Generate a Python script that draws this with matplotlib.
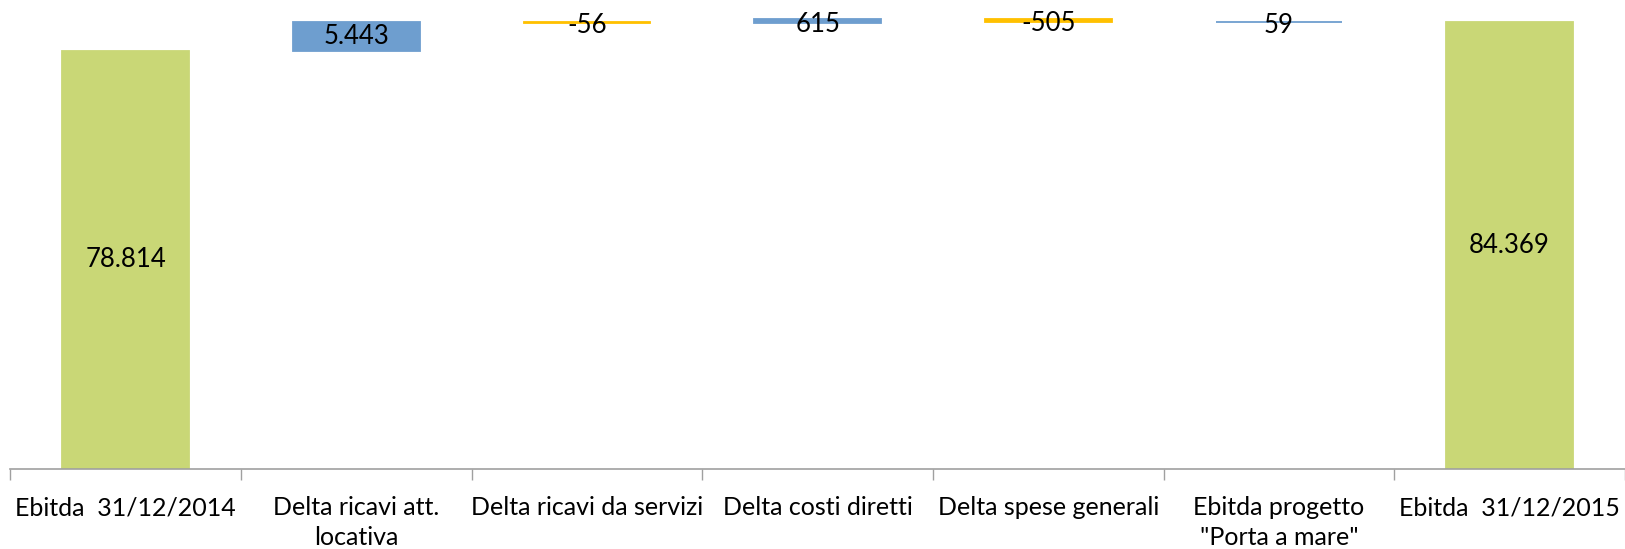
import numpy as np
import matplotlib.pyplot as plt

plt.rcParams['font.family'] = ['Lato', 'DejaVu Sans']

categories = ['Ebitda  31/12/2014', 'Delta ricavi att.\nlocativa', 'Delta ricavi da servizi',
              'Delta costi diretti', 'Delta spese generali', 'Ebitda progetto\n"Porta a mare"',
              'Ebitda  31/12/2015']
values = [78814, 5443, -56, 615, -505, 59, 84369]
labels = ['78.814', '5.443', '-56', '615', '-505', '59', '84.369']
is_total = [True, False, False, False, False, False, True]

green = '#C9D776'
blue = '#6E9ECF'
gold = '#FFC000'

fig = plt.figure(figsize=(16.25, 5.49), dpi=100)
ax = fig.add_axes([0.0064, 0.1466, 0.9936, 0.8534])

x = np.arange(len(values))
running = 0
for i, v in enumerate(values):
    if is_total[i]:
        bottom, height, color = 0, v, green
        running = v
    else:
        bottom = running if v >= 0 else running + v
        height = abs(v)
        color = blue if v >= 0 else gold
        running += v
    ax.bar(x[i], height, bottom=bottom, width=0.55, color=color,
           edgecolor=color, linewidth=1.3)
    # small deltas: label sits just under the line, like in excel
    ax.text(x[i], bottom + height / 2 - (600 if not is_total[i] and height < 1000 else 0),
            labels[i], ha='center', va='center', fontsize=18.5, color='black')

ax.set_xlim(-0.5, 6.5)
ax.set_ylim(0, 88480)
ax.set_yticks([])
for s in ['top', 'right', 'left']:
    ax.spines[s].set_visible(False)
ax.spines['bottom'].set_color('#A0A0A0')
ax.spines['bottom'].set_linewidth(1.2)

ax.set_xticks(x)
ax.set_xticklabels(categories, fontsize=18, linespacing=1.35)
ax.tick_params(axis='x', which='major', length=0, pad=20)
ax.set_xticks(np.arange(-0.5, 7.0, 1.0), minor=True)
ax.tick_params(axis='x', which='minor', length=8, color='#A0A0A0', width=1)

fig.savefig('out.png', dpi=100)
